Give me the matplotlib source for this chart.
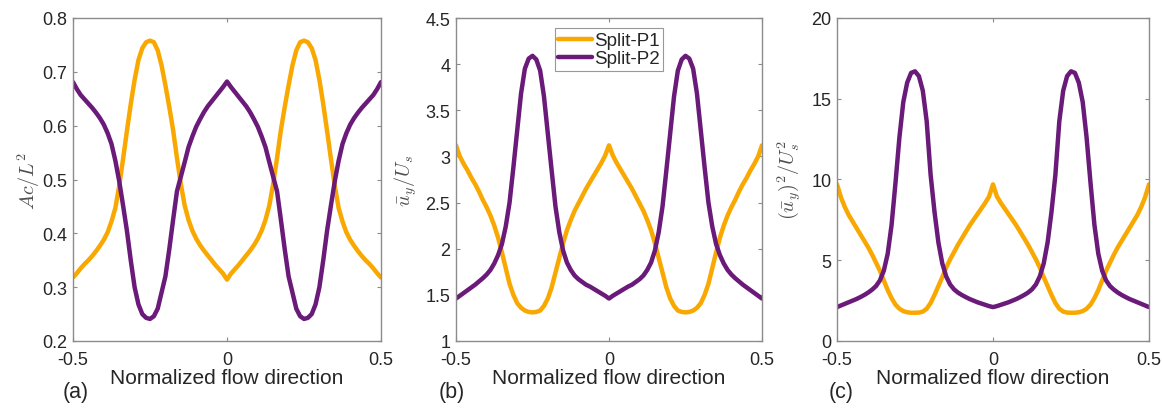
import numpy as np
import matplotlib
matplotlib.use("Agg")
import matplotlib.pyplot as plt

# ---------------- data ----------------
x = np.linspace(-0.5, 0.5, 81)  # normalized flow direction

a_p1 = [0.318, 0.326, 0.335, 0.343, 0.350, 0.358, 0.367, 0.377, 0.388, 0.402,
        0.422, 0.447, 0.488, 0.538, 0.590, 0.640, 0.685, 0.722, 0.744, 0.755,
        0.758, 0.755, 0.740, 0.712, 0.675, 0.635, 0.592, 0.540, 0.492, 0.452,
        0.425, 0.405, 0.390, 0.378, 0.368, 0.359, 0.350, 0.341, 0.333, 0.325, 0.314,
        0.325, 0.333, 0.341, 0.350, 0.359, 0.368, 0.378, 0.390, 0.405, 0.425,
        0.452, 0.492, 0.540, 0.592, 0.635, 0.675, 0.712, 0.740, 0.755, 0.758,
        0.755, 0.744, 0.722, 0.685, 0.640, 0.590, 0.538, 0.488, 0.447, 0.422,
        0.402, 0.388, 0.377, 0.367, 0.358, 0.350, 0.343, 0.335, 0.326, 0.318]

a_p2 = [0.681, 0.668, 0.657, 0.649, 0.641, 0.633, 0.624, 0.614, 0.602, 0.586,
        0.566, 0.535, 0.497, 0.452, 0.405, 0.350, 0.300, 0.268, 0.250, 0.243,
        0.241, 0.246, 0.260, 0.290, 0.320, 0.370, 0.425, 0.478, 0.505, 0.532,
        0.560, 0.580, 0.598, 0.612, 0.625, 0.636, 0.645, 0.654, 0.663, 0.672, 0.682,
        0.672, 0.663, 0.654, 0.645, 0.636, 0.625, 0.612, 0.598, 0.580, 0.560,
        0.532, 0.505, 0.478, 0.425, 0.370, 0.320, 0.290, 0.260, 0.246, 0.241,
        0.243, 0.250, 0.268, 0.300, 0.350, 0.405, 0.452, 0.497, 0.535, 0.566,
        0.586, 0.602, 0.614, 0.624, 0.633, 0.641, 0.649, 0.657, 0.668, 0.681]

b_p1 = [3.12, 3.00, 2.92, 2.85, 2.77, 2.70, 2.62, 2.53, 2.45, 2.36,
        2.25, 2.12, 1.96, 1.79, 1.62, 1.50, 1.41, 1.36, 1.33, 1.315,
        1.31, 1.315, 1.33, 1.38, 1.46, 1.58, 1.74, 1.90, 2.06, 2.20,
        2.31, 2.41, 2.49, 2.57, 2.65, 2.72, 2.79, 2.86, 2.93, 3.01, 3.12,
        3.01, 2.93, 2.86, 2.79, 2.72, 2.65, 2.57, 2.49, 2.41, 2.31,
        2.20, 2.06, 1.90, 1.74, 1.58, 1.46, 1.38, 1.33, 1.315, 1.31,
        1.315, 1.33, 1.36, 1.41, 1.50, 1.62, 1.79, 1.96, 2.12, 2.25,
        2.36, 2.45, 2.53, 2.62, 2.70, 2.77, 2.85, 2.92, 3.00, 3.12]

b_p2 = [1.46, 1.49, 1.52, 1.55, 1.58, 1.61, 1.645, 1.68, 1.72, 1.77,
        1.84, 1.93, 2.05, 2.24, 2.50, 2.88, 3.28, 3.68, 3.95, 4.06,
        4.09, 4.05, 3.93, 3.65, 3.25, 2.85, 2.46, 2.18, 1.98, 1.85,
        1.77, 1.71, 1.67, 1.64, 1.61, 1.59, 1.565, 1.54, 1.515, 1.49, 1.46,
        1.49, 1.515, 1.54, 1.565, 1.59, 1.61, 1.64, 1.67, 1.71, 1.77,
        1.85, 1.98, 2.18, 2.46, 2.85, 3.25, 3.65, 3.93, 4.05, 4.09,
        4.06, 3.95, 3.68, 3.28, 2.88, 2.50, 2.24, 2.05, 1.93, 1.84,
        1.77, 1.72, 1.68, 1.645, 1.61, 1.58, 1.55, 1.52, 1.49, 1.46]

c_p1 = [9.7, 8.9, 8.3, 7.8, 7.4, 7.0, 6.6, 6.2, 5.8, 5.35,
        4.85, 4.35, 3.75, 3.15, 2.65, 2.25, 2.00, 1.85, 1.78, 1.75,
        1.75, 1.76, 1.82, 2.00, 2.35, 2.85, 3.40, 3.95, 4.55, 5.05,
        5.50, 5.95, 6.35, 6.75, 7.15, 7.50, 7.85, 8.2, 8.55, 8.95, 9.7,
        8.95, 8.55, 8.2, 7.85, 7.50, 7.15, 6.75, 6.35, 5.95, 5.50,
        5.05, 4.55, 3.95, 3.40, 2.85, 2.35, 2.00, 1.82, 1.76, 1.75,
        1.75, 1.78, 1.85, 2.00, 2.25, 2.65, 3.15, 3.75, 4.35, 4.85,
        5.35, 5.8, 6.2, 6.6, 7.0, 7.4, 7.8, 8.3, 8.9, 9.7]

c_p2 = [2.10, 2.20, 2.30, 2.40, 2.50, 2.60, 2.72, 2.85, 3.00, 3.18,
        3.40, 3.75, 4.35, 5.40, 7.20, 9.80, 12.6, 14.8, 16.0, 16.6,
        16.7, 16.4, 15.5, 13.6, 10.3, 8.0, 6.1, 4.8, 4.0, 3.50,
        3.20, 3.00, 2.85, 2.72, 2.60, 2.50, 2.40, 2.32, 2.24, 2.16, 2.10,
        2.16, 2.24, 2.32, 2.40, 2.50, 2.60, 2.72, 2.85, 3.00, 3.20,
        3.50, 4.0, 4.8, 6.1, 8.0, 10.3, 13.6, 15.5, 16.4, 16.7,
        16.6, 16.0, 14.8, 12.6, 9.80, 7.20, 5.40, 4.35, 3.75, 3.40,
        3.18, 3.00, 2.85, 2.72, 2.60, 2.50, 2.40, 2.30, 2.20, 2.10]

series_names = ["Split-P1", "Split-P2"]
panel_tags = ["(a)", "(b)", "(c)"]
ylabels = [r"$Ac/L^2$", r"$\bar{u}_y/U_s$", r"$(\bar{u}_y)^2/U_s^2$"]
xlabel = "Normalized flow direction"
xticks = [-0.5, 0, 0.5]
xticklabels = ["-0.5", "0", "0.5"]
yticks_list = [[0.2, 0.3, 0.4, 0.5, 0.6, 0.7, 0.8],
               [1, 1.5, 2, 2.5, 3, 3.5, 4, 4.5],
               [0, 5, 10, 15, 20]]
yticklabels_list = [["0.2", "0.3", "0.4", "0.5", "0.6", "0.7", "0.8"],
                    ["1", "1.5", "2", "2.5", "3", "3.5", "4", "4.5"],
                    ["0", "5", "10", "15", "20"]]

# ---------------- style ----------------
plt.rcParams['font.family'] = ['Liberation Sans', 'DejaVu Sans']
plt.rcParams['mathtext.fontset'] = 'cm'
plt.rcParams['axes.unicode_minus'] = False

c_orange = '#F8A800'
c_purple = '#6A1A78'
spine_col = '#8C8C8C'
text_col = '#262626'

fig = plt.figure(figsize=(11.62, 4.10), dpi=100)
positions = [(73, 308), (456, 306), (837, 312)]
bottom = (410 - 342) / 410
height = (342 - 19) / 410

data = [(a_p1, a_p2), (b_p1, b_p2), (c_p1, c_p2)]
tag_x = [76, 452, 841]
ylabel_pads = [0, 5, 5]

for i, ((left, w), (s1, s2)) in enumerate(zip(positions, data)):
    ax = fig.add_axes([left / 1162, bottom, w / 1162, height])
    ax.plot(x, s1, color=c_orange, lw=3.2, label=series_names[0], solid_capstyle='round')
    ax.plot(x, s2, color=c_purple, lw=3.2, label=series_names[1], solid_capstyle='round')
    ax.set_xlim(-0.5, 0.5)
    yt = yticks_list[i]
    ax.set_ylim(yt[0], yt[-1])
    ax.set_xticks(xticks)
    ax.set_xticklabels(xticklabels)
    ax.set_yticks(yt)
    ax.set_yticklabels(yticklabels_list[i])
    ax.tick_params(direction='in', top=True, right=True, length=3, width=0.8,
                   color=spine_col, labelsize=13, labelcolor=text_col, pad=4)
    ax.tick_params(axis='x', pad=7.5)
    for sp in ax.spines.values():
        sp.set_color(spine_col)
        sp.set_linewidth(1.0)
    ax.set_xlabel(xlabel, fontsize=15, color=text_col, labelpad=0)
    ax.set_ylabel(ylabels[i], fontsize=14.5, color='#505050', labelpad=ylabel_pads[i])
    fig.text(tag_x[i] / 1162, 1 - 393 / 410, panel_tags[i], fontsize=15.5,
             color=text_col, ha='center', va='center')
    if i == 1:
        leg = ax.legend(loc='upper center', fontsize=13.5, frameon=True, fancybox=False,
                        edgecolor='#7F7F7F', handlelength=1.8, handletextpad=0.1,
                        borderpad=0.2, labelspacing=0.05, borderaxespad=0.55)
        leg.get_frame().set_linewidth(0.8)
        for t in leg.get_texts():
            t.set_color(text_col)

fig.savefig("out.png", dpi=100, facecolor='white')
